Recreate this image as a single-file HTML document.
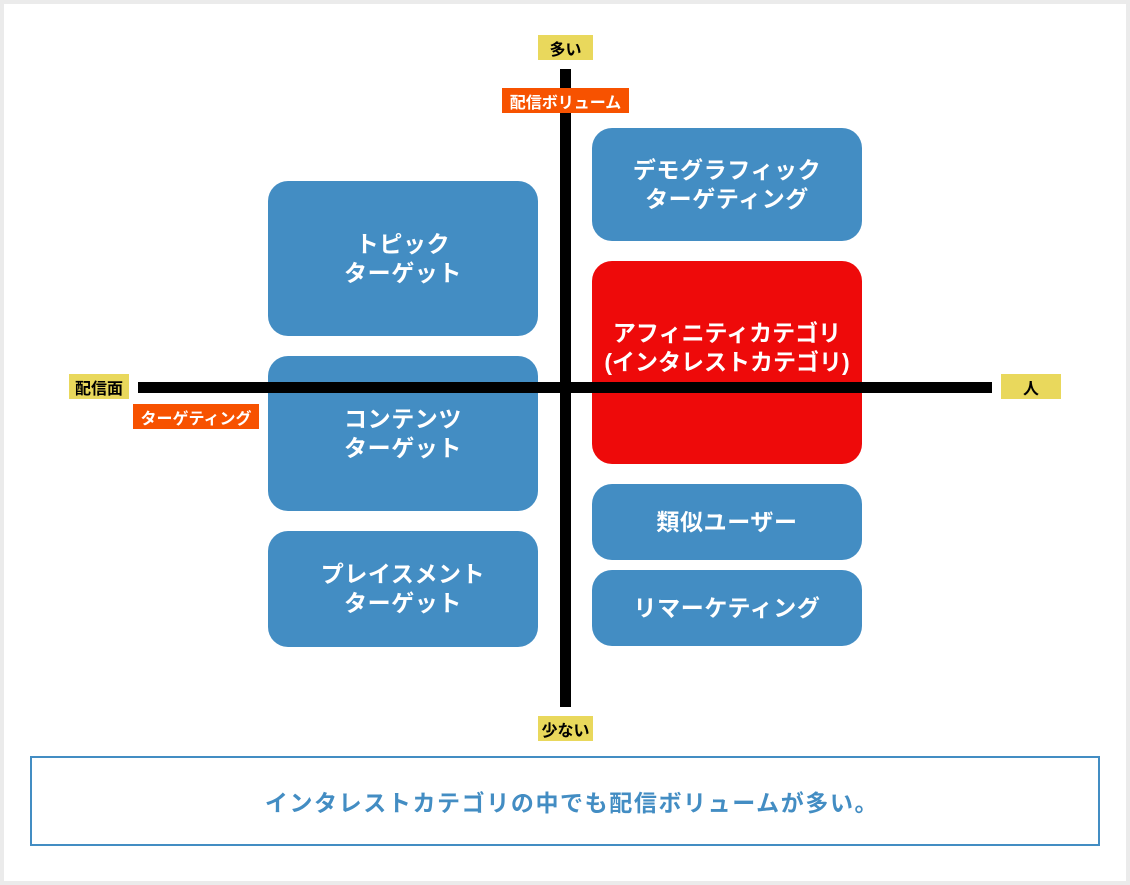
<!DOCTYPE html>
<html><head><meta charset="utf-8"><style>
*{margin:0;padding:0;box-sizing:border-box}
body{width:1130px;height:885px;background:#ebebeb;position:relative;overflow:hidden;font-family:"Liberation Sans","Noto Sans CJK JP",sans-serif;font-weight:bold}
.w{position:absolute;left:4px;top:4px;width:1122px;height:877px;background:#fff}
.a{position:absolute}
.box{position:absolute;background:#438dc3;border-radius:20px;color:#fff;font-size:23px;letter-spacing:0.6px;line-height:29px;display:flex;align-items:center;justify-content:center;text-align:center;white-space:nowrap}
.y{position:absolute;background:#e9d85c;color:#000;font-size:16px;display:flex;align-items:center;justify-content:center}
.o{position:absolute;background:#f75200;color:#fff;font-size:16px;display:flex;align-items:center;justify-content:center}
</style></head><body>
<div class="w"></div>
<div class="box" style="left:268px;top:181px;width:270px;height:155px">トピック<br>ターゲット</div>
<div class="box" style="left:268px;top:356px;width:270px;height:155px">コンテンツ<br>ターゲット</div>
<div class="box" style="left:268px;top:531px;width:270px;height:116px">プレイスメント<br>ターゲット</div>
<div class="box" style="left:592px;top:128px;width:270px;height:113px">デモグラフィック<br>ターゲティング</div>
<div class="box" style="left:592px;top:261px;width:270px;height:203px;background:#ee0a0a;padding-bottom:30px;letter-spacing:0">アフィニティカテゴリ<br>(インタレストカテゴリ)</div>
<div class="box" style="left:592px;top:484px;width:270px;height:76px">類似ユーザー</div>
<div class="box" style="left:592px;top:570px;width:270px;height:76px">リマーケティング</div>
<div class="a" style="left:560px;top:69px;width:11px;height:638px;background:#000"></div>
<div class="a" style="left:138px;top:382px;width:854px;height:11px;background:#000"></div>
<div class="y" style="left:538px;top:35px;width:55px;height:25px">多い</div>
<div class="y" style="left:538px;top:716px;width:55px;height:25px">少ない</div>
<div class="y" style="left:69px;top:374px;width:60px;height:25px">配信面</div>
<div class="y" style="left:1001px;top:374px;width:60px;height:25px">人</div>
<div class="o" style="left:502px;top:88px;width:127px;height:25px">配信ボリューム</div>
<div class="o" style="left:133px;top:404px;width:126px;height:25px">ターゲティング</div>
<div class="a" style="left:30px;top:756px;width:1070px;height:90px;border:2px solid #438dc3;color:#438dc3;font-size:23px;letter-spacing:1.6px;padding-left:14px;display:flex;align-items:center;justify-content:center">インタレストカテゴリの中でも配信ボリュームが多い。</div>
</body></html>
